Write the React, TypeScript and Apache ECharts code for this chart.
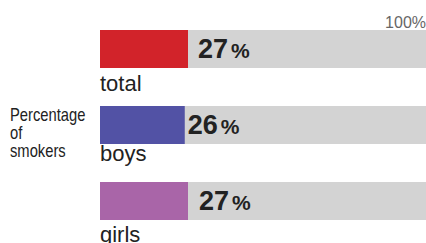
import React, { useEffect, useRef } from "react";
import * as echarts from "echarts";

const categories = ["total", "boys", "girls"];
const values = [27, 26, 27];
const fullValues = [100, 100, 100];
const barColors = ["#d2232a", "#5252a5", "#a965a8"];
const axisMaxLabel = "100%";
const sideTitle = "Percentage\nof\nsmokers";

export default function App() {
  const ref = useRef<HTMLDivElement>(null);
  useEffect(() => {
    document.body.style.margin = "0";
    const chart = echarts.init(ref.current!, null, { renderer: "svg" });
    const valueDist = [10, 3, 11];
    const nameOffset = [42, 36, 41];
    chart.setOption({
      animation: false,
      grid: { left: 100, top: 11, width: 328, height: 228 },
      xAxis: { type: "value", min: 0, max: 100, show: false },
      yAxis: {
        type: "category",
        data: categories,
        inverse: true,
        show: false,
      },
      series: [
        {
          type: "bar",
          barWidth: 38,
          barGap: "-100%",
          silent: true,
          itemStyle: { color: "#d3d3d3" },
          data: fullValues.map((v, i) => ({
            value: v,
            label: {
              show: true,
              position: [0, nameOffset[i]],
              formatter: categories[i],
              color: "#222",
              fontSize: 22,
              fontFamily: "Liberation Sans, Arial, sans-serif",
            },
          })),
        },
        {
          type: "bar",
          barWidth: 38,
          barGap: "-100%",
          data: values.map((v, i) => ({
            value: v,
            itemStyle: { color: barColors[i] },
            label: {
              show: true,
              position: "right",
              distance: valueDist[i],
              formatter: "{a|" + v + "}{b|%}",
              rich: {
                a: {
                  fontSize: 27,
                  fontWeight: "bold",
                  color: "#222",
                  fontFamily: "Liberation Sans, Arial, sans-serif",
                },
                b: {
                  fontSize: 21,
                  fontWeight: "bold",
                  color: "#222",
                  fontFamily: "Liberation Sans, Arial, sans-serif",
                  padding: [2, 0, 0, 3],
                },
              },
            },
          })),
        },
      ],
      graphic: [
        {
          type: "text",
          x: 426,
          y: 14,
          style: {
            text: axisMaxLabel,
            align: "right",
            fill: "#666",
            fontSize: 16,
            fontFamily: "Liberation Sans, Arial, sans-serif",
          },
        },
        {
          type: "text",
          x: 10,
          y: 105,
          scaleX: 0.82,
          style: {
            text: sideTitle,
            fill: "#222",
            fontSize: 18,
            lineHeight: 18,
            fontFamily: "Liberation Sans, Arial, sans-serif",
          },
        },
      ],
    });
    return () => chart.dispose();
  }, []);
  return <div ref={ref} style={{ width: 426, height: 243 }} />;
}
